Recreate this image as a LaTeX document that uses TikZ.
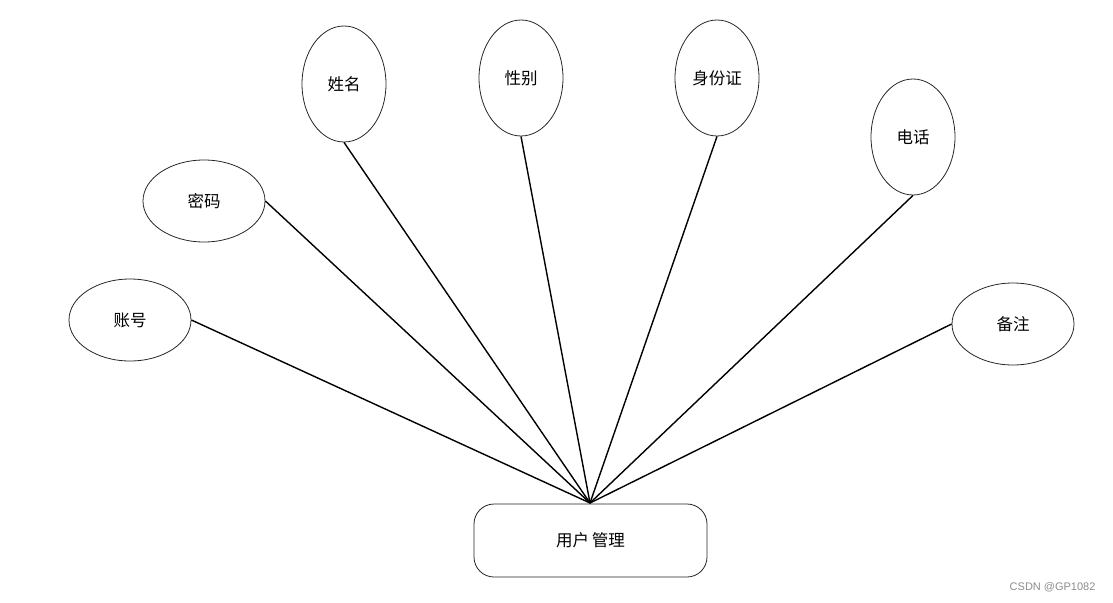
\documentclass[tikz,border=0pt]{standalone}
\usepackage{fontspec}
\newfontfamily\cjk{Noto Sans CJK SC}
\setmainfont{Liberation Sans}
\usetikzlibrary{shapes.geometric}
\begin{document}
\begin{tikzpicture}[x=1pt,y=-1pt,
  attr/.style={ellipse,draw=black!85,line width=0.8pt,inner sep=0pt,font=\cjk\fontsize{16.5}{19}\selectfont},
  wide/.style={attr,minimum width=122pt,minimum height=82pt},
  tall/.style={attr,minimum width=84pt,minimum height=116pt},
  ent/.style={draw=black!85,line width=0.8pt,rounded corners=20pt,minimum width=233pt,minimum height=73pt,font=\cjk\fontsize{16.5}{19}\selectfont},
  link/.style={line width=1.4pt,black}]
\useasboundingbox (0,0) rectangle (1113,602);
\node[wide] (zh) at (130,320) {账号};
\node[wide] (mm) at (204,201) {密码};
\node[tall] (xm) at (344,84) {姓名};
\node[tall] (xb) at (521,78) {性别};
\node[tall] (sfz) at (717,78) {身份证};
\node[tall] (dh) at (913,137) {电话};
\node[wide] (bz) at (1013,324) {备注};
\node[ent] (yh) at (590.5,540.5) {用户\,管理};
\coordinate (hub) at (590,503);
\draw[link] (zh.east) -- (hub);
\draw[link] (mm.east) -- (hub);
\draw[link] (xm.south) -- (hub);
\draw[link] (xb.south) -- (hub);
\draw[link] (sfz.south) -- (hub);
\draw[link] (dh.south) -- (hub);
\draw[link] (bz.west) -- (hub);
\node[text=black!45,font=\fontsize{11}{13}\selectfont,anchor=east] (wm) at (1099,587) {CSDN @GP1082};
\end{tikzpicture}
\end{document}
